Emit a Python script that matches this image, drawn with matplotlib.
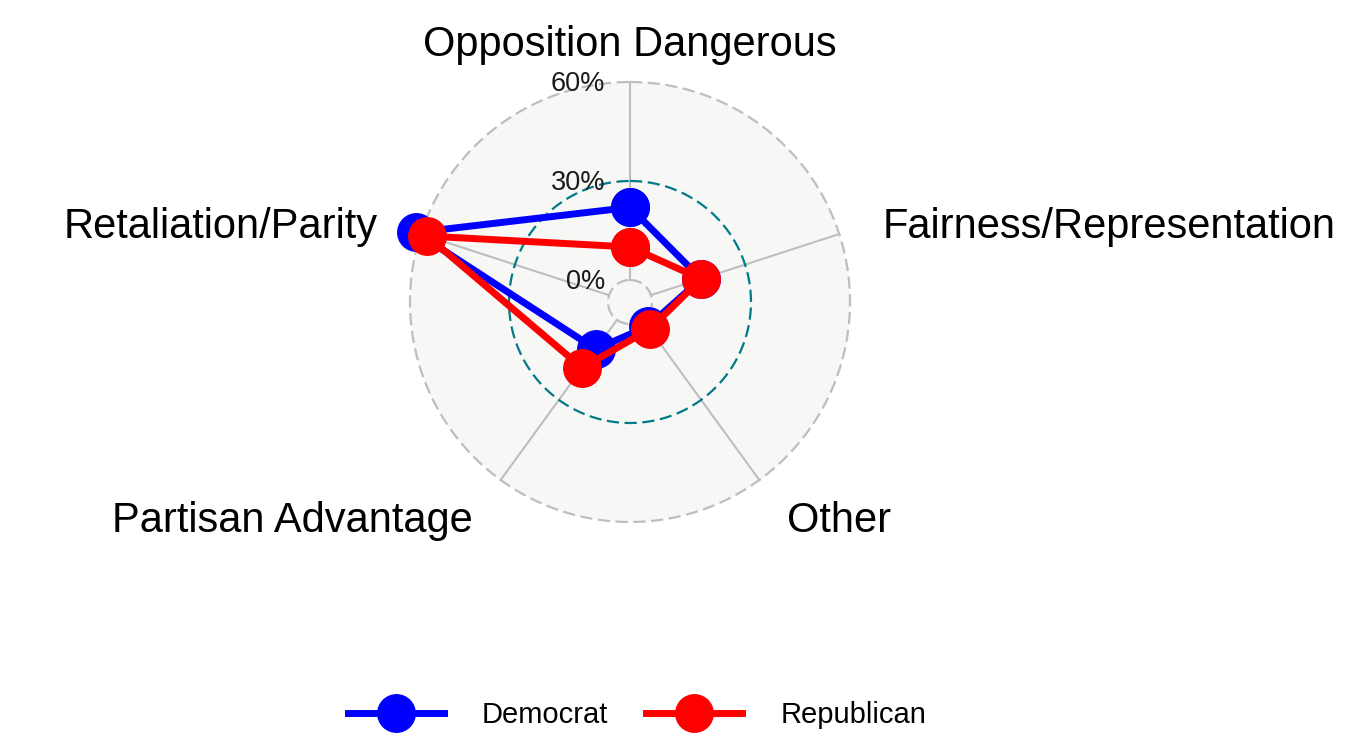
import numpy as np
import matplotlib
matplotlib.use('Agg')
import matplotlib.pyplot as plt
from matplotlib.patches import Circle

plt.rcParams['font.family'] = ['Liberation Sans', 'DejaVu Sans']

categories = ["Opposition Dangerous", "Fairness/Representation", "Other",
              "Partisan Advantage", "Retaliation/Parity"]
democrat = [0.22, 0.16, 0.025, 0.11, 0.615]
republican = [0.10, 0.16, 0.035, 0.18, 0.58]
series_names = ["Democrat", "Republican"]
series_colors = ["#0000FF", "#FF0000"]
grid_values = [0.0, 0.3, 0.6]
grid_labels = ["0%", "30%", "60%"]
grid_colors = ["#BEBEBE", "#007A87", "#BEBEBE"]

W, H = 1348, 754
fig = plt.figure(figsize=(W / 100, H / 100), dpi=100)
cx, cy, R = 630, 302, 220
ax = fig.add_axes([(cx - R) / W, (H - cy - R) / H, 2 * R / W, 2 * R / H],
                  projection='polar')
ax.set_theta_zero_location('N')
ax.set_theta_direction(-1)
ax.set_ylim(0, 0.6)
ax.set_rorigin(-0.6 / 9)
ax.patch.set_visible(False)
for sp in ax.spines.values():
    sp.set_visible(False)
    sp.set_color('none')
    sp.set_linewidth(0)
ax.grid(False)
ax.set_xticks([])
ax.set_yticks([])
ax.add_patch(Circle((0.5, 0.5), 0.5, transform=ax.transAxes,
                    facecolor='#F7F7F6', edgecolor='none', zorder=0,
                    clip_on=False))

n = len(categories)
angles = np.arange(n) * 2 * np.pi / n

# axis lines
for t in angles:
    ax.plot([t, t], [0, 0.6], color='#BEBEBE', lw=1.5, zorder=1, clip_on=False)

# grid circles
tt = np.linspace(0, 2 * np.pi, 600)
for g, c in zip(grid_values, grid_colors):
    ax.plot(tt, np.full_like(tt, g), color=c, lw=1.6, ls=(0, (5.5, 2.5)),
            zorder=2, clip_on=False)

# grid labels
for g, lab in zip(grid_values, grid_labels):
    ax.annotate(lab, xy=(0, g), xytext=(-25, -2), textcoords='offset pixels',
                ha='right', va='center', fontsize=19.5, color='#1a1a1a',
                zorder=5)

# data series
handles = []
for vals, name, col in zip([democrat, republican], series_names, series_colors):
    th = np.append(angles, angles[0])
    v = np.append(vals, vals[0])
    ln, = ax.plot(th, v, color=col, lw=5, marker='o', ms=27, clip_on=False,
                  zorder=4, label=name)
    handles.append(ln)

# axis labels
label_specs = [
    (0, 4, 'center'),
    (12, -3, 'left'),
    (8, -14, 'left'),
    (-9, -14, 'right'),
    (-12, -3, 'right'),
]
for t, cat, (dx, dy, ha) in zip(angles, categories, label_specs):
    ax.annotate(cat, xy=(t, 0.7), xytext=(dx, dy), textcoords='offset pixels',
                ha=ha, va='center', fontsize=30, color='black',
                annotation_clip=False)

fig.legend(handles=handles, loc='center', bbox_to_anchor=(637 / W, 1 - 715 / H),
           ncol=2, frameon=False, fontsize=21, handlelength=3.3,
           handletextpad=1.3, columnspacing=1.3)

fig.savefig('out.png', dpi=100)
